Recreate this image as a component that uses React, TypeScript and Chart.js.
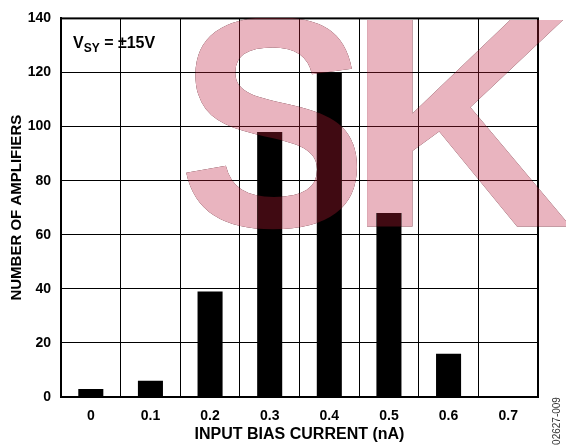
import React, { useEffect, useRef } from 'react';
import { Chart, registerables } from 'chart.js';

Chart.register(...registerables);

const categories = ['0', '0.1', '0.2', '0.3', '0.4', '0.5', '0.6', '0.7'];
const amplifierCounts = [3, 6, 39, 98, 120, 68, 16, 0];
const yMin = 0;
const yMax = 140;
const yStep = 20;
const xTitle = 'INPUT BIAS CURRENT (nA)';
const yTitle = 'NUMBER OF AMPLIFIERS';
const supplyMain = 'V';
const supplySub = 'SY';
const supplyRest = ' = \u00B115V';
const figureCode = '02627-009';
const watermarkLetters = ['S', 'K'];

const FONT = '"Liberation Sans", Arial, Helvetica, sans-serif';

function makeWatermark(w: number, h: number, a: any, color: string) {
  const off = document.createElement('canvas');
  off.width = w;
  off.height = h;
  const c = off.getContext('2d') as CanvasRenderingContext2D;
  c.fillStyle = color;
  c.font = `bold 300px ${FONT}`;
  c.textBaseline = 'alphabetic';
  c.textAlign = 'left';
  c.save();
  c.translate(a.left + 117, a.top + 208);
  c.scale(0.95, 1);
  c.fillText(watermarkLetters[0], 0, 0);
  c.restore();
  c.save();
  c.translate(a.left + 285, a.top + 208);
  c.scale(1.05, 1);
  c.fillText(watermarkLetters[1], 0, 0);
  c.restore();
  // keep only the part inside/below the plot top
  c.clearRect(0, 0, w, a.top);
  return off;
}

const overlayPlugin = {
  id: 'overlay',
  afterDraw(chart: any) {
    const { ctx, chartArea: a } = chart;
    ctx.save();
    // plot frame
    ctx.strokeStyle = '#000';
    ctx.lineWidth = 2;
    ctx.strokeRect(a.left, a.top, a.right - a.left, a.bottom - a.top);

    // supply label
    ctx.fillStyle = '#000';
    ctx.textBaseline = 'alphabetic';
    ctx.textAlign = 'left';
    let x = a.left + 12;
    const base = a.top + 30;
    ctx.font = `bold 16px ${FONT}`;
    ctx.fillText(supplyMain, x, base);
    x += ctx.measureText(supplyMain).width;
    ctx.font = `bold 12px ${FONT}`;
    ctx.fillText(supplySub, x, base + 4);
    x += ctx.measureText(supplySub).width;
    ctx.font = `bold 16px ${FONT}`;
    ctx.fillText(supplyRest, x, base);

    // figure code (rotated)
    ctx.save();
    ctx.translate(chart.width - 9, a.bottom + 24);
    ctx.rotate(-Math.PI / 2);
    ctx.font = `10px ${FONT}`;
    ctx.fillStyle = '#333';
    ctx.textAlign = 'center';
    ctx.textBaseline = 'middle';
    ctx.fillText(figureCode, 0, 0);
    ctx.restore();

    // watermark
    const w = chart.width;
    const h = chart.height;
    const pink = makeWatermark(w, h, a, '#E9B4BF');
    const dark = makeWatermark(w, h, a, '#400A12');
    ctx.globalCompositeOperation = 'multiply';
    ctx.drawImage(pink, 0, 0, w, h);
    ctx.globalCompositeOperation = 'lighten';
    ctx.drawImage(dark, 0, 0, w, h);
    ctx.restore();
  },
};

export default function App() {
  const canvasRef = useRef<HTMLCanvasElement | null>(null);

  useEffect(() => {
    if (!canvasRef.current) return;
    const chart = new Chart(canvasRef.current, {
      type: 'bar',
      data: {
        labels: categories,
        datasets: [
          {
            data: amplifierCounts,
            backgroundColor: '#000',
            borderWidth: 0,
            barPercentage: 0.42,
            categoryPercentage: 1,
          },
        ],
      },
      options: {
        animation: false,
        responsive: true,
        maintainAspectRatio: false,
        layout: { padding: { top: 16, right: 28, bottom: 0, left: 0 } },
        plugins: {
          legend: { display: false },
          tooltip: { enabled: false },
        },
        scales: {
          x: {
            type: 'category',
            offset: true,
            grid: { color: '#000', lineWidth: 1, offset: true, drawTicks: false },
            border: { display: true, color: '#000', width: 2 },
            ticks: {
              color: '#000',
              font: { family: FONT, size: 14, weight: 'bold' },
              padding: 11,
              maxRotation: 0,
              autoSkip: false,
            },
            title: {
              display: true,
              text: xTitle,
              color: '#000',
              font: { family: FONT, size: 16, weight: 'bold' },
              padding: { top: 0, bottom: 2 },
            },
            afterFit(scale: any) {
              scale.height = 49;
            },
          },
          y: {
            min: yMin,
            max: yMax,
            grid: { color: '#000', lineWidth: 1, drawTicks: false },
            border: { display: true, color: '#000', width: 2 },
            ticks: {
              stepSize: yStep,
              color: '#000',
              font: { family: FONT, size: 14, weight: 'bold' },
              padding: 10,
            },
            title: {
              display: true,
              text: yTitle,
              color: '#000',
              font: { family: FONT, size: 15, weight: 'bold' },
              padding: { top: 8, bottom: 0 },
            },
            afterFit(scale: any) {
              scale.width = 61;
            },
          },
        },
      },
      plugins: [overlayPlugin],
    });
    return () => chart.destroy();
  }, []);

  return (
    <div style={{ position: 'fixed', left: 0, top: 0, width: 566, height: 446, background: '#fff' }}>
      <canvas ref={canvasRef} />
    </div>
  );
}
